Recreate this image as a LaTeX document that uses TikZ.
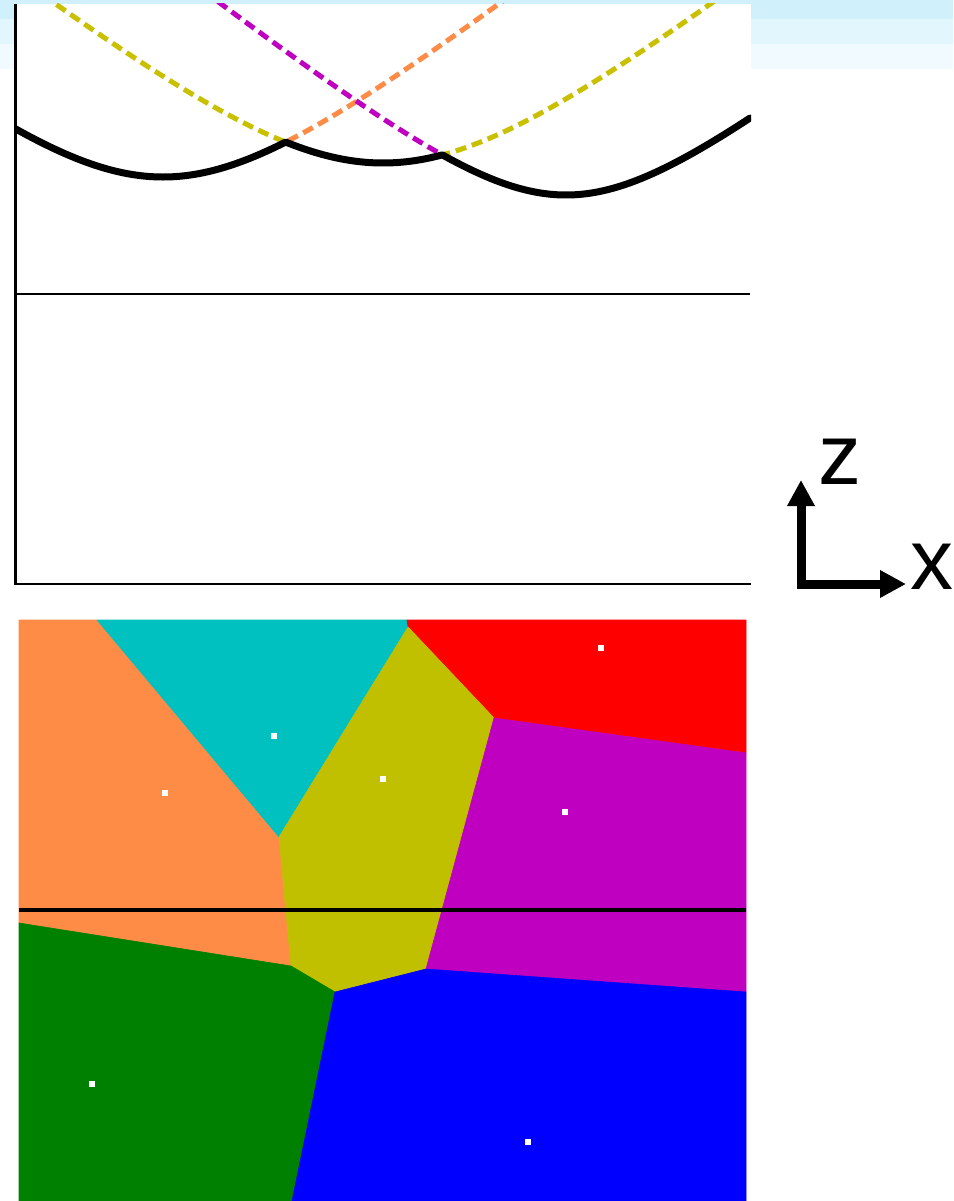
\documentclass[tikz,border=0pt]{standalone}
\usepackage{fontspec}
\setmainfont{Liberation Sans}
\usetikzlibrary{arrows.meta}
\definecolor{bandA}{RGB}{208,240,251}
\definecolor{bandB}{RGB}{225,246,253}
\definecolor{bandC}{RGB}{241,250,254}
\definecolor{vorange}{RGB}{255,140,70}
\definecolor{vcyan}{RGB}{0,192,192}
\definecolor{vyellow}{RGB}{192,192,0}
\definecolor{dyellow}{RGB}{200,192,0}
\definecolor{vred}{RGB}{255,0,0}
\definecolor{vmagenta}{RGB}{192,0,192}
\definecolor{vgreen}{RGB}{0,128,0}
\definecolor{vblue}{RGB}{0,0,255}
\tikzset{
  dashcurve/.style={line width=5pt, dash pattern=on 11pt off 6pt},
  envelope/.style={line width=7pt, line join=round, line cap=round},
  frameline/.style={line width=2.2pt},
  cell/.style={line width=0.6pt, line join=round},
  site/.style={rectangle, fill=white, draw=none, minimum size=6pt, inner sep=0pt},
  axisarrow/.style={line width=9pt, line join=miter,
    {Triangle[width=26pt,length=26pt]}-{Triangle[width=26pt,length=26pt]}},
  axislabel/.style={inner sep=0pt, font=\fontsize{86}{86}\selectfont}
}
\begin{document}
\begin{tikzpicture}[x=1pt,y=-1pt]
\useasboundingbox (0,0) rectangle (953,1201);
% background bands
\fill[white] (0,0) rectangle (953,1201);
\fill[bandA] (0,0) rectangle (953,19);
\fill[bandB] (0,19) rectangle (953,44);
\fill[bandC] (0,44) rectangle (953,69);
% plot area
\fill[white] (15,4) rectangle (751,585);
\begin{scope}
\clip (15,4) rectangle (751,585);
\draw[dashcurve, dyellow] plot[domain=15:751, samples=200]
  (\x, {294-100*sqrt(1.31^2+0.625*((\x-383)/100)^2)});
\draw[dashcurve, vorange] plot[domain=15:751, samples=200]
  (\x, {294-100*sqrt(1.17^2+0.625*((\x-163)/100)^2)});
\draw[dashcurve, vmagenta] plot[domain=15:751, samples=200]
  (\x, {294-100*sqrt(0.99^2+0.625*((\x-566)/100)^2)});
\draw[envelope] plot[domain=15:750, samples=736]
  (\x, {294-100*min(sqrt(1.17^2+0.625*((\x-163)/100)^2),
                     sqrt(1.31^2+0.625*((\x-383)/100)^2),
                     sqrt(0.99^2+0.625*((\x-566)/100)^2))});
\end{scope}
\coordinate (pTL) at (15.5,4);
\coordinate (pBL) at (15.5,584);
\coordinate (pBR) at (751,584);
\coordinate (aL) at (15.5,294);
\coordinate (aR) at (750,294);
\draw[frameline] (pTL) -- (pBL) -- (pBR);
\draw[frameline] (aL) -- (aR);
% axes symbol
\coordinate (ztip) at (801,480);
\coordinate (corner) at (801,584);
\coordinate (xtip) at (906,584);
\draw[axisarrow] (ztip) -- (corner) -- (xtip);
\node[axislabel] (zlab) at (840,462) {z};
\node[axislabel] (xlab) at (932,567) {x};
% Voronoi cells
\filldraw[cell, fill=vorange, draw=vorange] (19,620) -- (97,620) -- (279,837) -- (291,966) -- (19,923) -- cycle;
\filldraw[cell, fill=vcyan, draw=vcyan] (97,620) -- (407,620) -- (408,627) -- (279,837) -- cycle;
\filldraw[cell, fill=vred, draw=vred] (407,620) -- (746,620) -- (746,753) -- (494,718) -- (408,627) -- cycle;
\filldraw[cell, fill=vyellow, draw=vyellow] (408,627) -- (494,718) -- (426,969) -- (335,992) -- (291,966) -- (279,837) -- cycle;
\filldraw[cell, fill=vmagenta, draw=vmagenta] (494,718) -- (746,753) -- (746,992) -- (426,969) -- cycle;
\filldraw[cell, fill=vgreen, draw=vgreen] (19,923) -- (291,966) -- (335,992) -- (292,1201) -- (19,1201) -- cycle;
\filldraw[cell, fill=vblue, draw=vblue] (335,992) -- (426,969) -- (746,992) -- (746,1201) -- (292,1201) -- cycle;
% sweep line
\coordinate (lL) at (19,910);
\coordinate (lR) at (746,910);
\draw[line width=4.5pt] (lL) -- (lR);
% sites
\node[site] (sOrange) at (165,793) {};
\node[site] (sCyan) at (274,736) {};
\node[site] (sYellow) at (383,779) {};
\node[site] (sRed) at (601,648) {};
\node[site] (sMagenta) at (565,812) {};
\node[site] (sGreen) at (92,1084) {};
\node[site] (sBlue) at (528,1142) {};
\end{tikzpicture}
\end{document}
